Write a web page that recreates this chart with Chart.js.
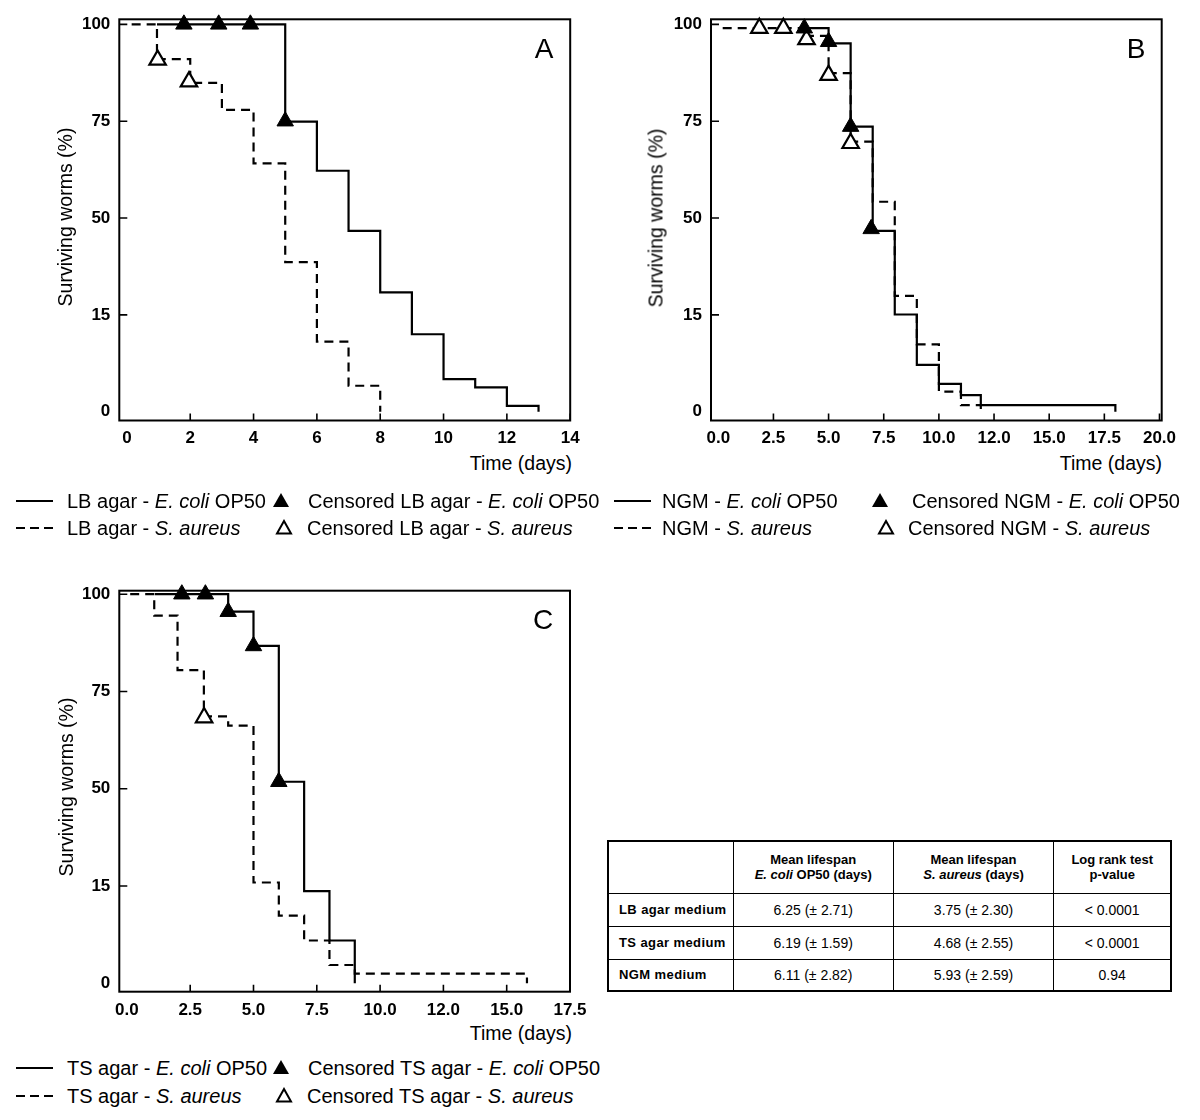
<!DOCTYPE html>
<html>
<head>
<meta charset="utf-8">
<script src="https://cdn.jsdelivr.net/npm/chart.js@4.4.1/dist/chart.umd.min.js"></script>
<style>
  body { margin: 0; background: #fff; }
  #wrap { position: relative; width: 1200px; height: 1120px; overflow: hidden; background: #fff;
          font-family: 'Liberation Sans', Arial, Helvetica, sans-serif; color: #000; }
  .panel { position: absolute; width: 600px; height: 450px; }
  .ytitle { position: absolute; white-space: nowrap; font-size: 19.5px; transform: translate(-50%, -50%) rotate(-90deg); }
  .xtitle { position: absolute; white-space: nowrap; font-size: 19.5px; transform: translate(-100%, -50%); }
  .letter { position: absolute; font-size: 28px; transform: translate(-50%, -50%); }
  .leg { position: absolute; white-space: nowrap; font-size: 20px; line-height: 1; transform: translateY(-50%); }
  .sym { position: absolute; width: 18px; height: 16px; transform: translate(-50%, -50%); }
  .ls { position: absolute; height: 2px; width: 37px; background: #000; transform: translateY(-50%); }
  .ld { position: absolute; height: 2px; width: 37px; transform: translateY(-50%);
        background: repeating-linear-gradient(to right, #000 0 9px, transparent 9px 14px); }
  table.res { position: absolute; left: 607px; top: 840px; width: 565px; height: 150px;
              border-collapse: collapse; border: 2px solid #000; font-size: 14px; }
  table.res td { border: 1px solid #000; text-align: center; padding: 0; }
  table.res td.h { font-weight: bold; font-size: 13px; line-height: 15px; }
  table.res td.r { font-weight: bold; font-size: 13px; text-align: left; padding-left: 10px; letter-spacing: 0.4px; }
</style>
</head>
<body>
<div id="wrap">
  <div class="panel" style="left:0;top:0"><canvas id="cA"></canvas></div>
  <div class="panel" style="left:600px;top:0"><canvas id="cB"></canvas></div>
  <div class="panel" style="left:0;top:570px"><canvas id="cC"></canvas></div>

  <div class="ytitle" style="left:65px;top:217px">Surviving worms (%)</div>
  <div class="ytitle" style="left:656px;top:218px">Surviving worms (%)</div>
  <div class="ytitle" style="left:66px;top:787px">Surviving worms (%)</div>

  <div class="xtitle" style="left:572px;top:463px">Time (days)</div>
  <div class="xtitle" style="left:1162px;top:463px">Time (days)</div>
  <div class="xtitle" style="left:572px;top:1033px">Time (days)</div>

  <div class="letter" style="left:544px;top:49px">A</div>
  <div class="letter" style="left:1136px;top:49px">B</div>
  <div class="letter" style="left:543px;top:620px">C</div>

  <!-- Legend A -->
  <div class="ls" style="left:16px;top:501px"></div>
  <div class="leg" style="left:67px;top:501px">LB agar - <i>E. coli</i> OP50</div>
  <svg class="sym" style="left:281px;top:500px" viewBox="0 0 18 16"><polygon points="9,1 17,15 1,15" fill="#000"/></svg>
  <div class="leg" style="left:308px;top:501px">Censored LB agar - <i>E. coli</i> OP50</div>
  <div class="ld" style="left:16px;top:528px"></div>
  <div class="leg" style="left:67px;top:528px">LB agar - <i>S. aureus</i></div>
  <svg class="sym" style="left:284px;top:527px" viewBox="0 0 18 16"><polygon points="9,2 16,14.5 2,14.5" fill="#fff" stroke="#000" stroke-width="2"/></svg>
  <div class="leg" style="left:307px;top:528px">Censored LB agar - <i>S. aureus</i></div>

  <!-- Legend B -->
  <div class="ls" style="left:614px;top:501px"></div>
  <div class="leg" style="left:662px;top:501px">NGM - <i>E. coli</i> OP50</div>
  <svg class="sym" style="left:880px;top:500px" viewBox="0 0 18 16"><polygon points="9,1 17,15 1,15" fill="#000"/></svg>
  <div class="leg" style="left:912px;top:501px">Censored NGM - <i>E. coli</i> OP50</div>
  <div class="ld" style="left:614px;top:528px"></div>
  <div class="leg" style="left:662px;top:528px">NGM - <i>S. aureus</i></div>
  <svg class="sym" style="left:886px;top:527px" viewBox="0 0 18 16"><polygon points="9,2 16,14.5 2,14.5" fill="#fff" stroke="#000" stroke-width="2"/></svg>
  <div class="leg" style="left:908px;top:528px">Censored NGM - <i>S. aureus</i></div>

  <!-- Legend C -->
  <div class="ls" style="left:16px;top:1068px"></div>
  <div class="leg" style="left:67px;top:1068px">TS agar - <i>E. coli</i> OP50</div>
  <svg class="sym" style="left:281px;top:1067px" viewBox="0 0 18 16"><polygon points="9,1 17,15 1,15" fill="#000"/></svg>
  <div class="leg" style="left:308px;top:1068px">Censored TS agar - <i>E. coli</i> OP50</div>
  <div class="ld" style="left:16px;top:1096px"></div>
  <div class="leg" style="left:67px;top:1096px">TS agar - <i>S. aureus</i></div>
  <svg class="sym" style="left:284px;top:1095px" viewBox="0 0 18 16"><polygon points="9,2 16,14.5 2,14.5" fill="#fff" stroke="#000" stroke-width="2"/></svg>
  <div class="leg" style="left:307px;top:1096px">Censored TS agar - <i>S. aureus</i></div>

  <table class="res" id="tbl"></table>
</div>

<script>
// ---------------- DATA ----------------
// Panel A (LB agar)
const A_ecoliDays      = [0.95, 5, 6, 7, 8, 9, 10, 11, 12, 13];
const A_ecoliSurv      = [100, 74.9, 62.2, 46.7, 30.8, 20.0, 8.4, 6.3, 1.5, 0];
const A_aureusDays     = [0.15, 0.95, 2, 3, 4, 5, 6, 7, 8];
const A_aureusSurv     = [100, 91.0, 84.9, 77.9, 64.1, 38.6, 18.1, 6.7, 0];
const A_ecoliCensDays  = [1.8, 2.9, 3.9, 5];
const A_ecoliCensSurv  = [100, 100, 100, 75];
const A_aureusCensDays = [0.97, 1.96];
const A_aureusCensSurv = [90.8, 85.2];
const A_xTicks  = [0, 2, 4, 6, 8, 10, 12, 14];
const A_xLabels = ['0', '2', '4', '6', '8', '10', '12', '14'];

// Panel B (NGM)
const B_ecoliDays      = [3.9, 5, 6, 7, 8, 9, 10, 11, 11.9, 18];
const B_ecoliSurv      = [99, 95.1, 73.6, 46.7, 25.1, 12.1, 7.2, 4.3, 1.7, 0];
const B_aureusDays     = [0.2, 4, 5, 6, 7, 8, 9, 10, 11, 11.9];
const B_aureusSurv     = [99, 97.0, 87.4, 69.7, 54.2, 29.9, 17.4, 5.2, 1.7, 0];
const B_ecoliCensDays  = [3.9, 5, 6, 6.93];
const B_ecoliCensSurv  = [99, 95.5, 73.6, 47.2];
const B_aureusCensDays = [1.86, 2.95, 4, 5, 6];
const B_aureusCensSurv = [99, 99, 96.1, 86.9, 69.3];
const B_xTicks  = [0, 2.5, 5, 7.5, 10, 12.5, 15, 17.5, 20];
const B_xLabels = ['0.0', '2.5', '5.0', '7.5', '10.0', '12.0', '15.0', '17.5', '20.0'];

// Panel C (TS agar)
const C_ecoliDays      = [1.1, 4, 5, 6, 7, 8, 9];
const C_ecoliSurv      = [100, 95.5, 86.7, 51.8, 23.7, 11.0, 0];
const C_aureusDays     = [0.13, 1.08, 2, 3.04, 4, 5, 6, 7, 8, 9, 15.8];
const C_aureusSurv     = [100, 94.5, 80.5, 68.6, 66.2, 25.9, 17.4, 11.0, 4.7, 2.5, 0];
const C_ecoliCensDays  = [2.17, 3.1, 4.0, 5.0, 6.0];
const C_ecoliCensSurv  = [100, 100, 95.5, 86.7, 51.8];
const C_aureusCensDays = [3.05];
const C_aureusCensSurv = [68.3];
const C_xTicks  = [0, 2.5, 5, 7.5, 10, 12.5, 15, 17.5];
const C_xLabels = ['0.0', '2.5', '5.0', '7.5', '10.0', '12.0', '15.0', '17.5'];

// Shared y axis (tick labels as printed)
const yTicks  = [0, 25, 50, 75, 100];
const yLabels = ['0', '15', '50', '75', '100'];

// Table
const tableHeader = ['', 'Mean lifespan<br><i>E. coli</i> OP50 (days)', 'Mean lifespan<br><i>S. aureus</i> (days)', 'Log rank test<br>p-value'];
const tableRows   = ['LB agar medium', 'TS agar medium', 'NGM medium'];
const tableEcoli  = ['6.25 (± 2.71)', '6.19 (± 1.59)', '6.11 (± 2.82)'];
const tableAureus = ['3.75 (± 2.30)', '4.68 (± 2.55)', '5.93 (± 2.59)'];
const tablePval   = ['< 0.0001', '< 0.0001', '0.94'];

// ---------------- BUILD ----------------
const zip = (xs, ys) => xs.map((x, i) => ({ x: x, y: ys[i] }));
const tickFont = { family: "'Liberation Sans', Arial, sans-serif", size: 17, weight: 'bold' };

const boxPlugin = {
  id: 'boxTicks',
  beforeDatasetsDraw(chart) {
    const { ctx, chartArea: a, scales: { x, y } } = chart;
    ctx.save();
    ctx.strokeStyle = '#000';
    ctx.lineWidth = 2;
    ctx.strokeRect(a.left, a.top, a.right - a.left, a.bottom - a.top);
    ctx.lineWidth = 1.6;
    ctx.beginPath();
    x.ticks.forEach(t => {
      if (t.value === 0) return;
      const px = x.getPixelForValue(t.value);
      ctx.moveTo(px, a.bottom); ctx.lineTo(px, a.bottom - 7);
    });
    y.ticks.forEach(t => {
      if (t.value === 0) return;
      const py = y.getPixelForValue(t.value);
      ctx.moveTo(a.left, py); ctx.lineTo(a.left + 8, py);
    });
    ctx.stroke();
    ctx.restore();
  }
};

function makePanel(id, p) {
  const datasets = [
    { data: zip(p.ecCensD, p.ecCensS), showLine: false, pointStyle: 'triangle', pointRadius: 9.5,
      pointBackgroundColor: '#000', pointBorderColor: '#000', pointBorderWidth: 1, clip: false },
    { data: zip(p.auCensD, p.auCensS), showLine: false, pointStyle: 'triangle', pointRadius: 9.5,
      pointBackgroundColor: '#fff', pointBorderColor: '#000', pointBorderWidth: 2.2, clip: false },
    { data: zip(p.ecD, p.ecS), stepped: 'before', borderColor: '#000', borderWidth: 2.2, pointRadius: 0, fill: false },
    { data: zip(p.auD, p.auS), stepped: 'before', borderColor: '#000', borderWidth: 2.2, borderDash: [9, 6], pointRadius: 0, fill: false }
  ];
  return new Chart(document.getElementById(id), {
    type: 'line',
    data: { datasets },
    options: {
      responsive: true, maintainAspectRatio: false, animation: false, events: [],
      layout: { padding: { left: 0, right: p.padRight, top: p.padTop, bottom: 0 } },
      plugins: { legend: { display: false }, tooltip: { enabled: false } },
      scales: {
        x: {
          type: 'linear', min: p.xMin, max: p.xMax,
          grid: { display: false, drawTicks: false }, border: { display: false },
          afterBuildTicks: s => { s.ticks = p.xTicks.map(v => ({ value: v })); },
          afterFit: s => { s.height = p.xHeight; },
          ticks: { font: tickFont, color: '#000', padding: 8, maxRotation: 0, autoSkip: false,
                   callback: v => p.xLabels[p.xTicks.indexOf(v)] }
        },
        y: {
          type: 'linear', min: p.yMin, max: p.yMax,
          grid: { display: false, drawTicks: false }, border: { display: false },
          afterBuildTicks: s => { s.ticks = yTicks.map(v => ({ value: v })); },
          afterFit: s => { s.width = p.yWidth; },
          ticks: { font: tickFont, color: '#000', padding: 9,
                   callback: v => yLabels[yTicks.indexOf(v)] }
        }
      }
    },
    plugins: [boxPlugin]
  });
}

makePanel('cA', {
  ecD: A_ecoliDays, ecS: A_ecoliSurv, auD: A_aureusDays, auS: A_aureusSurv,
  ecCensD: A_ecoliCensDays, ecCensS: A_ecoliCensSurv, auCensD: A_aureusCensDays, auCensS: A_aureusCensSurv,
  xTicks: A_xTicks, xLabels: A_xLabels, xMin: -0.24, xMax: 14,
  yMin: -2.27, yMax: 101.3, yWidth: 119.3, padRight: 29.8, padTop: 19.3, xHeight: 29.5
});
makePanel('cB', {
  ecD: B_ecoliDays, ecS: B_ecoliSurv, auD: B_aureusDays, auS: B_aureusSurv,
  ecCensD: B_ecoliCensDays, ecCensS: B_ecoliCensSurv, auCensD: B_aureusCensDays, auCensS: B_aureusCensSurv,
  xTicks: B_xTicks, xLabels: B_xLabels, xMin: -0.33, xMax: 20.1,
  yMin: -2.27, yMax: 101.3, yWidth: 111, padRight: 38.3, padTop: 19.3, xHeight: 29.5
});
makePanel('cC', {
  ecD: C_ecoliDays, ecS: C_ecoliSurv, auD: C_aureusDays, auS: C_aureusSurv,
  ecCensD: C_ecoliCensDays, ecCensS: C_ecoliCensSurv, auCensD: C_aureusCensDays, auCensS: C_aureusCensSurv,
  xTicks: C_xTicks, xLabels: C_xLabels, xMin: -0.3, xMax: 17.5,
  yMin: -2.16, yMax: 100.9, yWidth: 119.3, padRight: 30, padTop: 20.7, xHeight: 28.3
});

// Table
(function buildTable() {
  const t = document.getElementById('tbl');
  const colW = [125, 161, 162, 117];
  const rowH = [52, 33, 33, 32];
  let html = '<tr style="height:' + rowH[0] + 'px">';
  tableHeader.forEach((h, i) => { html += '<td class="h" style="width:' + colW[i] + 'px">' + h + '</td>'; });
  html += '</tr>';
  tableRows.forEach((r, i) => {
    html += '<tr style="height:' + rowH[i + 1] + 'px"><td class="r">' + r + '</td><td>' + tableEcoli[i] +
            '</td><td>' + tableAureus[i] + '</td><td>' + tablePval[i] + '</td></tr>';
  });
  t.innerHTML = html;
})();
</script>
</body>
</html>
